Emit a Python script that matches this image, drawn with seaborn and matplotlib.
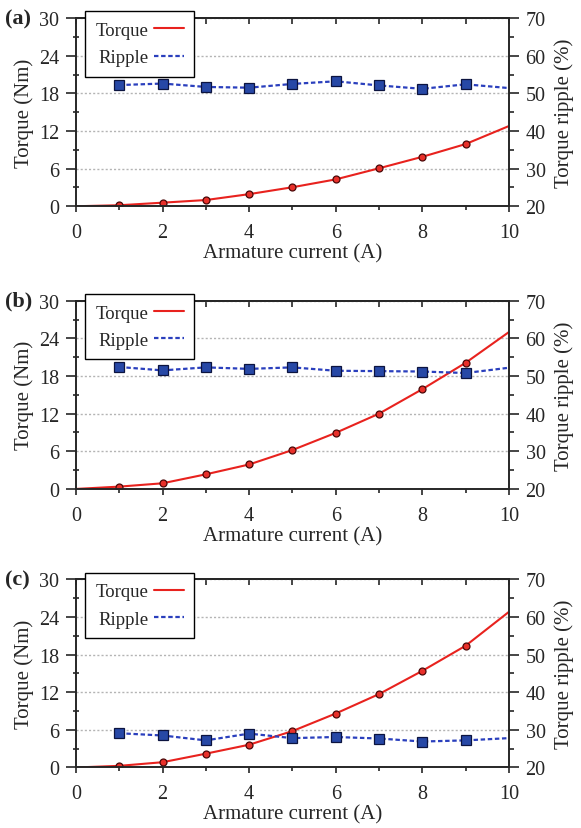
import seaborn as sns
import matplotlib.pyplot as plt
from matplotlib.lines import Line2D
from matplotlib.ticker import MultipleLocator

# armature current (A)
current = [0, 1, 2, 3, 4, 5, 6, 7, 8, 9, 10]
ripple_current = [1, 2, 3, 4, 5, 6, 7, 8, 9, 10]

# torque (Nm)
torque_a = [0, 0.16, 0.57, 0.99, 1.93, 3.03, 4.28, 6.05, 7.88, 9.91, 12.78]
torque_b = [0, 0.37, 0.90, 2.33, 3.90, 6.20, 8.94, 12.0, 15.9, 20.1, 25.0]
torque_c = [0, 0.26, 0.84, 2.20, 3.63, 5.80, 8.60, 11.7, 15.4, 19.4, 24.8]

# torque ripple (%)
ripple_a = [52.2, 52.6, 51.7, 51.5, 52.5, 53.2, 52.1, 51.2, 52.4, 51.4]
ripple_b = [52.4, 51.5, 52.3, 51.9, 52.3, 51.4, 51.3, 51.2, 50.8, 52.2]
ripple_c = [29.1, 28.5, 27.2, 29.0, 27.8, 28.1, 27.7, 26.9, 27.2, 27.8]

tags = ["(a)", "(b)", "(c)"]
torques = [torque_a, torque_b, torque_c]
ripples = [ripple_a, ripple_b, ripple_c]

RED = "#e8221e"
BLUE = "#2a3fbd"

sns.set_style("ticks")
plt.rcParams["font.family"] = ["Liberation Serif", "DejaVu Serif"]
plt.rcParams["axes.linewidth"] = 1.2

fig = plt.figure(figsize=(5.81, 8.29), dpi=100)
bottoms = [0.750, 0.409, 0.073]

for tag, torque, ripple, bottom in zip(tags, torques, ripples, bottoms):
    ax = fig.add_axes([0.1308, bottom, 0.745, 0.227])
    ax2 = ax.twinx()

    sns.lineplot(x=current, y=torque, ax=ax, color=RED, linewidth=1.5,
                 marker="o", markersize=5, markevery=list(range(1, 10)),
                 markerfacecolor="#e8302a", markeredgecolor="#4a0808",
                 markeredgewidth=0.9, errorbar=None)
    sns.lineplot(x=ripple_current, y=ripple, ax=ax2, color=BLUE, linewidth=1.6,
                 linestyle=(0, (2, 1.2)),
                 marker="s", markersize=6.5, markevery=list(range(0, 9)),
                 markerfacecolor="#2748a6", markeredgecolor="#0c1440",
                 markeredgewidth=0.9, errorbar=None)

    ax.set_xlim(0, 10)
    ax.set_ylim(0, 30)
    ax2.set_ylim(20, 70)

    ax.xaxis.set_major_locator(MultipleLocator(2))
    ax.xaxis.set_minor_locator(MultipleLocator(1))
    ax.yaxis.set_major_locator(MultipleLocator(6))
    ax.yaxis.set_minor_locator(MultipleLocator(3))
    ax2.yaxis.set_major_locator(MultipleLocator(10))
    ax2.yaxis.set_minor_locator(MultipleLocator(5))

    ax.yaxis.grid(True, which="major", color="#b4b4b4",
                  linestyle=(0, (1.5, 1.5)), linewidth=1.0)
    ax.set_axisbelow(True)

    ax.tick_params(axis="x", which="major", direction="out", length=4,
                   width=1.2, pad=8, labelsize=14.5)
    ax.tick_params(axis="x", which="minor", direction="out", length=3, width=1.2)
    ax.tick_params(axis="y", which="major", direction="out", length=7,
                   width=1.2, pad=5, labelsize=14.5)
    ax.tick_params(axis="y", which="minor", direction="inout", length=5, width=1.2)
    ax2.tick_params(axis="y", which="major", direction="out", length=7,
                    width=1.2, pad=5, labelsize=14.5)
    ax2.tick_params(axis="y", which="minor", direction="out", length=3.5, width=1.2)

    top = ax.secondary_xaxis("top")
    top.xaxis.set_major_locator(MultipleLocator(1))
    top.tick_params(axis="x", direction="in", length=4, width=1.2, labeltop=False)

    ax.set_xlabel("Armature current (A)", fontsize=15, labelpad=1)
    ax.set_ylabel("Torque (Nm)", fontsize=15, labelpad=4)
    ax2.set_ylabel("Torque ripple (%)", fontsize=15, labelpad=6)

    handles = [Line2D([], [], color=RED, linewidth=1.5),
               Line2D([], [], color=BLUE, linewidth=1.6, linestyle=(0, (2, 1.2)))]
    leg = ax2.legend(handles, ["Torque", "Ripple"], loc="upper left",
                     bbox_to_anchor=(0.021, 1.035), borderaxespad=0,
                     markerfirst=False, frameon=True, fancybox=False,
                     framealpha=1, edgecolor="black", fontsize=13.5,
                     handlelength=1.6, handletextpad=0.3, borderpad=0.55,
                     labelspacing=0.55)
    leg.get_frame().set_linewidth(1.0)
    leg.set_zorder(10)

    ax.text(-0.165, 1.0, tag, transform=ax.transAxes, fontsize=16,
            fontweight="bold", ha="left", va="center")

fig.savefig("out.png", dpi=100)
